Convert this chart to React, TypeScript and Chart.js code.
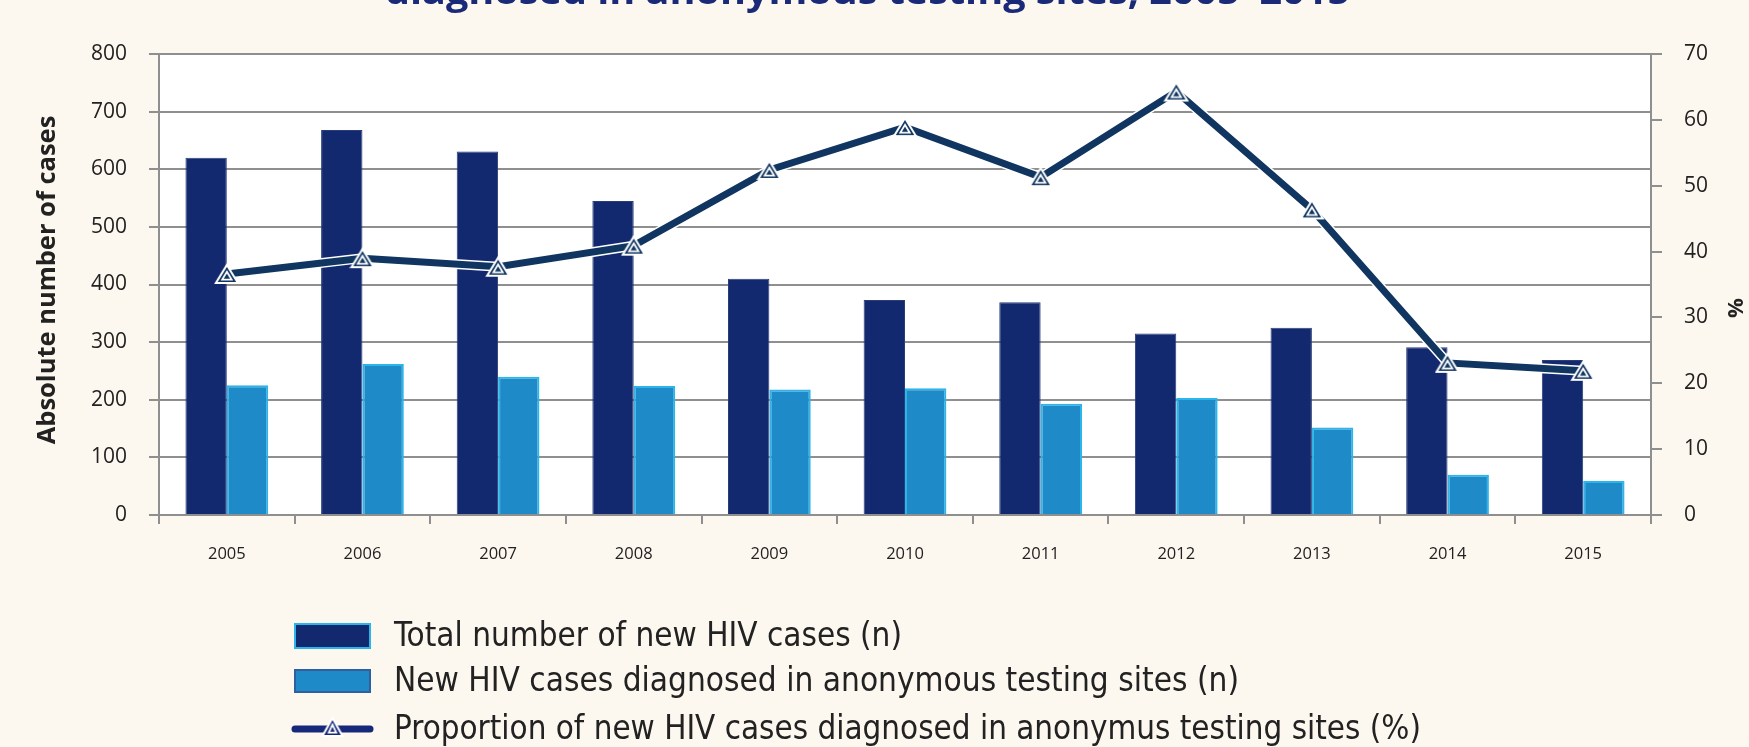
import React, { useEffect, useRef } from 'react';
import { Chart, registerables } from 'chart.js';

Chart.register(...registerables);

const categories = ['2005', '2006', '2007', '2008', '2009', '2010', '2011', '2012', '2013', '2014', '2015'];
const totalCases = [620, 668, 631, 545, 410, 373, 369, 315, 325, 291, 269];
const anonymousCases = [225, 262, 240, 224, 218, 220, 193, 203, 152, 70, 59];
const proportionPct = [36.6, 39.0, 37.7, 40.9, 52.4, 58.9, 51.3, 64.3, 46.4, 23.1, 21.9];

const seriesLabels = [
  'Total number of new HIV cases (n)',
  'New HIV cases diagnosed in anonymous testing sites (n)',
  'Proportion of new HIV cases diagnosed in anonymus testing sites (%)',
];
const titleText = 'diagnosed in anonymous testing sites, 2005–2015';
const leftAxisTitle = 'Absolute number of cases';
const rightAxisTitle = '%';

const W = 1749;
const H = 747;
const CREAM = '#FDF8EF';
const NAVY = '#13296F';
const LIGHT = '#1E8BC8';
const LIGHT_EDGE = '#2CB5EA';
const LINE = '#0F3560';
const GRID = '#8F8F8F';
const TEXT = '#222222';

function makeMarker(fill: string, w: number, h: number): HTMLCanvasElement {
  const c = document.createElement('canvas');
  c.width = w;
  c.height = h;
  const g = c.getContext('2d')!;
  const tri = (inset: number) => {
    g.beginPath();
    g.moveTo(w / 2, 2 + inset * 1.6);
    g.lineTo(w - 2 - inset * 1.5, h - 2 - inset * 0.8);
    g.lineTo(2 + inset * 1.5, h - 2 - inset * 0.8);
    g.closePath();
  };
  tri(0);
  g.fillStyle = fill;
  g.fill();
  g.lineWidth = 2;
  g.strokeStyle = '#FFFFFF';
  g.stroke();
  tri(4.2);
  g.lineWidth = 1.8;
  g.strokeStyle = '#FFFFFF';
  g.stroke();
  return c;
}

function fillFit(ctx: CanvasRenderingContext2D, text: string, x: number, y: number, width: number) {
  const m = ctx.measureText(text).width;
  const sx = width / m;
  ctx.save();
  ctx.translate(x, y);
  ctx.scale(sx, 1);
  ctx.fillText(text, 0, 0);
  ctx.restore();
}

export default function App() {
  const ref = useRef<HTMLCanvasElement | null>(null);

  useEffect(() => {
    document.body.style.margin = '0';
    const canvas = ref.current!;
    const chartMarker = makeMarker(LINE, 26, 22);
    const legendMarker = makeMarker('#16287A', 24, 22);

    const bgPlugin = {
      id: 'bg',
      beforeDraw(chart: any) {
        const { ctx, chartArea } = chart;
        ctx.save();
        ctx.fillStyle = CREAM;
        ctx.fillRect(0, 0, W, H);
        ctx.fillStyle = '#FFFFFF';
        ctx.fillRect(chartArea.left, chartArea.top, chartArea.right - chartArea.left, chartArea.bottom - chartArea.top);
        ctx.restore();
      },
    };

    const textPlugin = {
      id: 'texts',
      afterDraw(chart: any) {
        const { ctx } = chart;
        ctx.save();
        // Title (bottom line visible only)
        ctx.fillStyle = '#1B2A78';
        ctx.font = 'bold 36px "Open Sans"';
        ctx.textBaseline = 'alphabetic';
        ctx.textAlign = 'left';
        fillFit(ctx, titleText, 385, 4, 965);

        // Axis titles
        ctx.fillStyle = TEXT;
        ctx.font = 'bold 25.5px "Open Sans"';
        ctx.textAlign = 'center';
        ctx.textBaseline = 'middle';
        ctx.save();
        ctx.translate(48, 280);
        ctx.rotate(-Math.PI / 2);
        ctx.fillText(leftAxisTitle, 0, 0);
        ctx.restore();
        ctx.save();
        ctx.translate(1737, 308);
        ctx.rotate(-Math.PI / 2);
        ctx.font = 'bold 22px "Open Sans"';
        ctx.fillText(rightAxisTitle, 0, 0);
        ctx.restore();

        // Legend
        const bx = 295;
        const bw = 75;
        const rows = [636, 681, 729];
        const widths = [508, 845, 1027];
        ctx.fillStyle = NAVY;
        ctx.fillRect(bx, rows[0] - 12, bw, 24);
        ctx.lineWidth = 2;
        ctx.strokeStyle = LIGHT_EDGE;
        ctx.strokeRect(bx, rows[0] - 12, bw, 24);
        ctx.fillStyle = LIGHT;
        ctx.fillRect(bx, rows[1] - 11, bw, 22);
        ctx.strokeStyle = '#2F5F9E';
        ctx.strokeRect(bx, rows[1] - 11, bw, 22);
        ctx.lineCap = 'round';
        ctx.strokeStyle = '#16287A';
        ctx.lineWidth = 7;
        ctx.beginPath();
        ctx.moveTo(bx, rows[2]);
        ctx.lineTo(bx + bw, rows[2]);
        ctx.stroke();
        ctx.drawImage(legendMarker, bx + bw / 2 - 12, rows[2] - 13);

        ctx.fillStyle = TEXT;
        ctx.font = '33px "Liberation Sans Narrow", "DejaVu Sans Condensed", "Open Sans"';
        ctx.textAlign = 'left';
        ctx.textBaseline = 'middle';
        seriesLabels.forEach((t, i) => fillFit(ctx, t, 394, rows[i] + 1, widths[i]));
        ctx.restore();
      },
    };

    const chart = new Chart(canvas, {
      type: 'bar',
      data: {
        labels: categories,
        datasets: [
          {
            type: 'line',
            label: seriesLabels[2],
            data: proportionPct,
            yAxisID: 'y1',
            borderColor: LINE,
            borderWidth: 7,
            pointStyle: chartMarker as any,
            pointRadius: 11,
            tension: 0,
            order: 0,
          },
          {
            type: 'line',
            label: 'outline',
            data: proportionPct,
            yAxisID: 'y1',
            borderColor: '#FFFFFF',
            borderWidth: 10,
            pointRadius: 0,
            tension: 0,
            order: 1,
          },
          {
            type: 'bar',
            label: seriesLabels[0],
            data: totalCases,
            yAxisID: 'y',
            backgroundColor: NAVY,
            borderColor: '#2A3D78',
            borderWidth: 1,
            categoryPercentage: 0.61,
            barPercentage: 1.0,
            order: 2,
          },
          {
            type: 'bar',
            label: seriesLabels[1],
            data: anonymousCases,
            yAxisID: 'y',
            backgroundColor: LIGHT,
            borderColor: LIGHT_EDGE,
            borderWidth: 2,
            categoryPercentage: 0.61,
            barPercentage: 1.0,
            order: 2,
          },
        ] as any,
      },
      options: {
        responsive: false,
        animation: false,
        devicePixelRatio: 1,
        layout: { padding: { top: 54, left: 0, right: 0, bottom: 0 } },
        plugins: {
          legend: { display: false },
          tooltip: { enabled: false },
          title: { display: false },
        },
        scales: {
          x: {
            type: 'category',
            offset: true,
            grid: {
              offset: true,
              drawOnChartArea: false,
              drawTicks: true,
              tickLength: 9,
              color: GRID,
              lineWidth: 2,
            },
            border: { display: true, color: GRID, width: 2 },
            ticks: {
              padding: 20,
              color: TEXT,
              font: { family: '"Open Sans"', size: 16.5 },
              maxRotation: 0,
            },
            afterFit(scale: any) {
              scale.height = H - 515;
            },
          },
          y: {
            position: 'left',
            min: 0,
            max: 800,
            ticks: {
              stepSize: 100,
              padding: 22,
              color: TEXT,
              font: { family: '"Open Sans"', size: 21 },
            },
            grid: { color: GRID, lineWidth: 2, tickLength: 10 },
            border: { display: true, color: GRID, width: 2 },
            afterFit(scale: any) {
              scale.width = 159;
            },
          },
          y1: {
            position: 'right',
            min: 0,
            max: 70,
            ticks: {
              stepSize: 10,
              padding: 22,
              color: TEXT,
              font: { family: '"Open Sans"', size: 21 },
            },
            grid: { drawOnChartArea: false, color: GRID, lineWidth: 2, tickLength: 11 },
            border: { display: true, color: GRID, width: 2 },
            afterFit(scale: any) {
              scale.width = W - 1651;
            },
          },
        },
      } as any,
      plugins: [bgPlugin, textPlugin],
    });

    return () => chart.destroy();
  }, []);

  return (
    <div style={{ position: 'absolute', left: 0, top: 0, width: W, height: H, background: CREAM }}>
      <canvas ref={ref} width={W} height={H} style={{ width: W, height: H, display: 'block' }} />
    </div>
  );
}
